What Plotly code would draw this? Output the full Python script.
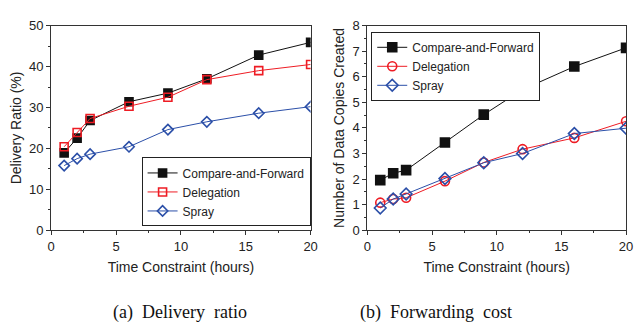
import plotly.graph_objects as go

hours = [1, 2, 3, 6, 9, 12, 16, 20]

ratio_caf = [18.9, 22.5, 26.8, 31.4, 33.5, 37.0, 42.8, 45.9]
ratio_del = [20.4, 23.9, 27.3, 30.3, 32.5, 36.8, 39.0, 40.5]
ratio_spray = [15.8, 17.5, 18.6, 20.4, 24.6, 26.5, 28.6, 30.2]

cost_caf = [1.96, 2.23, 2.35, 3.43, 4.52, 5.50, 6.40, 7.13]
cost_del = [1.08, 1.22, 1.27, 1.92, 2.65, 3.17, 3.61, 4.26]
cost_spray = [0.87, 1.22, 1.42, 2.02, 2.64, 3.00, 3.78, 3.99]

series_names = ["Compare-and-Forward", "Delegation", "Spray"]
colors = ["#111111", "#ee1c24", "#2b4fa8"]
symbols = ["square", "square-open", "diamond-open"]
symbols_b = ["square", "circle-open", "diamond-open"]

W, H = 637, 327
fig = go.Figure()

def add(x, y, name, color, sym, xa, ya, legend, size=8):
    fig.add_trace(go.Scatter(
        x=x, y=y, name=name, mode="lines+markers",
        line=dict(color=color, width=1),
        marker=dict(symbol=sym, size=size, color=color,
                    line=dict(color=color, width=1.6)),
        xaxis=xa, yaxis=ya, legend=legend))

for ys, n, c, s in zip([ratio_caf, ratio_del, ratio_spray], series_names, colors, symbols):
    add(hours, ys, n, c, s, "x", "y", "legend")
for ys, n, c, s in zip([cost_caf, cost_del, cost_spray], series_names, colors, symbols_b):
    add(hours, ys, n, c, s, "x2", "y2", "legend2", size=9)

font = "Liberation Sans, Arial, sans-serif"
ydom = [1 - 234 / H, 1 - 19.5 / H]
xdom1 = [48 / W, 312 / W]
xdom2 = [369.7 / W, 633 / W]
axis_common = dict(showline=True, linecolor="#333", linewidth=1.2, mirror=True,
                   ticks="outside", ticklen=4, tickcolor="#333", showgrid=False,
                   zeroline=False, tickfont=dict(family=font, size=13, color="#222"),
                   title_font=dict(family=font, size=14, color="#222"))
mirror_common = dict(showline=False, showgrid=False, zeroline=False, showticklabels=False,
                     ticks="inside", ticklen=4, tickcolor="#333")

legend_common = dict(xanchor="left", bordercolor="#222", borderwidth=1, bgcolor="white",
                     font=dict(family=font, size=12, color="#222"),
                     tracegroupgap=0, itemwidth=30)

def minor(d, kind="outside"):
    return dict(dtick=d, ticks=kind, ticklen=2, tickcolor="#333")

fig.update_layout(
    width=W, height=H, margin=dict(l=0, r=0, t=0, b=0),
    paper_bgcolor="white", plot_bgcolor="white",
    xaxis=dict(domain=xdom1, range=[0, 20], dtick=5, anchor="y", minor=minor(2.5),
               title=dict(text="Time Constraint (hours)", standoff=9), **axis_common),
    yaxis=dict(domain=ydom, range=[0, 50], dtick=10, anchor="x", minor=minor(5),
               title=dict(text="Delivery Ratio (%)", standoff=4), **axis_common),
    xaxis2=dict(domain=xdom2, range=[0, 20], dtick=5, anchor="y2", minor=minor(2.5),
                title=dict(text="Time Constraint (hours)", standoff=9), **axis_common),
    yaxis2=dict(domain=ydom, range=[0, 8], dtick=1, anchor="x2", minor=minor(0.5),
                title=dict(text="Number of Data Copies Created", standoff=4), **axis_common),
    xaxis3=dict(overlaying="x", side="top", anchor="y", range=[0, 20], dtick=5,
                minor=minor(2.5, "inside"), **mirror_common),
    yaxis3=dict(overlaying="y", side="right", anchor="x", range=[0, 50], dtick=10,
                minor=minor(5, "inside"), **mirror_common),
    xaxis4=dict(overlaying="x2", side="top", anchor="y2", range=[0, 20], dtick=5,
                minor=minor(2.5, "inside"), **mirror_common),
    yaxis4=dict(overlaying="y2", side="right", anchor="x2", range=[0, 8], dtick=1,
                minor=minor(0.5, "inside"), **mirror_common),
    legend=dict(x=140 / W, y=1 - 230 / H, yanchor="bottom", **legend_common),
    legend2=dict(x=373.7 / W, y=1 - 26 / H, yanchor="top", **legend_common),
    annotations=[
        dict(text="(a)  Delivery  ratio", x=179 / W, y=1 - 320 / H, xref="paper", yref="paper",
             xanchor="center", yanchor="middle", showarrow=False,
             font=dict(family="Liberation Serif, Times New Roman, serif", size=18, color="#111")),
        dict(text="(b)  Forwarding  cost", x=440 / W, y=1 - 320 / H, xref="paper", yref="paper",
             xanchor="center", yanchor="middle", showarrow=False,
             font=dict(family="Liberation Serif, Times New Roman, serif", size=18, color="#111")),
    ],
)

fig.write_html("out.html")
